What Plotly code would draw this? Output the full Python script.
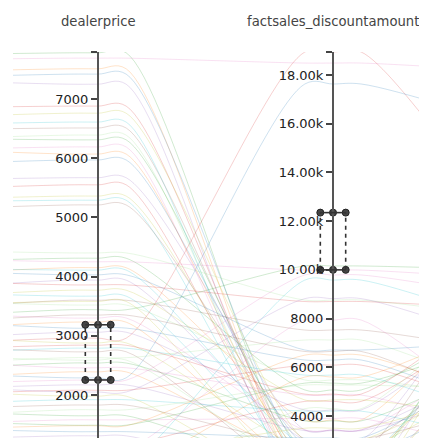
import plotly.graph_objects as go

# ---------------- data ----------------
dealerprice = [
    7780, 7690, 7510, 7420, 7250, 6880, 6760, 6610, 6510, 6390, 6310, 6190, 6070, 5970,
    5670, 5550, 5360, 5290, 5210,
    4400, 4310, 4250, 4150, 4030, 3940, 3860, 3770, 3670, 3600, 3520, 3440, 3300, 3230,
    3130, 3060, 2960, 2880, 2790, 2730, 2630, 2540, 2460, 2390, 2290, 2170, 2080, 1980,
    1920, 1830, 1750, 1650, 1580, 1480, 1380, 1310, 1160, 990, 820, 650, 480, 310,
    1070, 730, 1240, 2050, 2840, 3580, 4110, 3350, 2590, 1490, 2250,
]
discountamount = [
    1780, 18490, 1370, 2400, 960, 1820, 3020, 760, 2190, 1580, 2600, 1170, 1990, 2810,
    3430, 1750, 2380, 1400, 3050,
    8760, 5070, 9990, 3840, 6710, 3020, 8700, 4660, 2190, 7530, 5480, 10160, 3430, 1780,
    6300, 4250, 18944, 2600, 5680, 1370, 7120, 3800, 4860, 2250, 17630, 3400, 6090, 960,
    4200, 2810, 5270, 1700, 3900, 6500, 3100, 1300, 4600, 3500, 9580, 2450, 4300, 1850,
    7940, 5600, 2100, 8820, 4900, 1150, 2750, 6650, 1820, 5350, 9790,
]
# values on the neighbouring axes that lie outside the cropped view (0-100 scale)
prev_axis = [
    99.3, 98.2, 95.5, 94.2, 93.8, 87.5, 85.3, 83.7, 82.6, 80.4, 80.8, 78.1, 78.5, 74.8,
    71.4, 69.2, 67.0, 66.5, 64.7,
    55.8, 53.1, 54.0, 50.2, 51.3, 46.9, 49.1, 45.1, 46.4, 42.4, 44.6, 40.6, 42.0, 37.9,
    40.2, 35.7, 34.6, 36.8, 32.4, 34.6, 30.1, 29.0, 31.3, 26.8, 28.6, 24.6, 23.4, 24.6,
    21.2, 20.1, 18.3, 20.1, 16.7, 15.6, 16.1, 13.4, 11.2, 10.7, 6.7, 7.0, 2.7, 2.2,
    10.0, 7.8, 12.3, 25.7, 33.5, 43.5, 51.8, 39.1, 32.4, 17.9, 25.7,
]
next_axis = [
    22.3, 95.5, 15.6, 26.8, 11.2, 17.9, 31.3, 6.7, 20.1, 24.6, 13.4, 8.9, 21.5, 16.0,
    33.5, 7.2, 18.5, 12.3, 23.4,
    40.2, 44.6, 49.1, 53.6, 35.7, 62.0, 42.4, 17.9, 49.1, 32.4, 22.3, 51.3, 37.9, 26.8,
    17.9, 46.9, 55.8, 31.3, 15.6, 42.4, 22.3, 33.5, 13.4, 44.6, 82.6, 26.8, 17.9, 60.0,
    11.2, 40.2, 24.6, 58.7, 8.9, 20.1, 33.5, 61.4, 44.6, 26.8, 37.9, 63.9, 51.3, 57.3,
    13.4, 42.4, 22.3, 33.5, 49.1, 44.6, 8.9, 17.9, 53.6, 37.9, 44.6,
]

dimension_labels = ["dealerprice", "factsales_discountamount"]
dealer_domain = [226, 7794]
discount_domain = [552, 18944]
hidden_domain = [0, 100]

dealer_tickvals = [2000, 3000, 4000, 5000, 6000, 7000]
dealer_ticktext = ["2000", "3000", "4000", "5000", "6000", "7000"]
discount_tickvals = [4000, 6000, 8000, 10000, 12000, 14000, 16000, 18000]
discount_ticktext = ["4000", "6000", "8000", "10.00k", "12.00k", "14.00k", "16.00k", "18.00k"]

dealer_brush = [2254, 3186]
discount_brush = [10000, 12350]

# ---------------- styling / layout constants ----------------
palette = ["#2ca02c", "#e377c2", "#ff7f0e", "#1f77b4", "#9467bd", "#d62728",
           "#bcbd22", "#17becf", "#8c564b", "#98df8a"]
LINE_ALPHA = 0.22
VIS_BOTTOM = 0.1384          # part of the axes hidden below the cropped view
X_RANGE = [0.6383, 2.4]      # visible window over the axis sequence 0..3
H = 0.12                     # flat-tangent helper offset around each axis
BRUSH_W = 0.054

def norm(v, dom):
    return (v - dom[0]) / (dom[1] - dom[0])

def rgba(hexcol, a):
    h = hexcol.lstrip("#")
    return "rgba(%d,%d,%d,%.2f)" % (int(h[0:2], 16), int(h[2:4], 16), int(h[4:6], 16), a)

fig = go.Figure()

for i in range(len(dealerprice)):
    p = norm(prev_axis[i], hidden_domain)
    d = norm(dealerprice[i], dealer_domain)
    s = norm(discountamount[i], discount_domain)
    n = norm(next_axis[i], hidden_domain)
    xs = [0, H, 1 - H, 1, 1 + H, 2 - H, 2, 2 + H, 3 - H, 3]
    ys = [p, p, d, d, d, s, s, s, n, n]
    fig.add_trace(go.Scatter(
        x=xs, y=ys, mode="lines",
        line=dict(color=rgba(palette[i % len(palette)], LINE_ALPHA), width=1,
                  shape="spline", smoothing=1),
        hoverinfo="skip", showlegend=False))

def vis_range(dom):
    return [dom[0] + VIS_BOTTOM * (dom[1] - dom[0]), dom[1]]

def xpos(xv):
    return (xv - X_RANGE[0]) / (X_RANGE[1] - X_RANGE[0])

tickfont = dict(family="DejaVu Sans", size=13, color="#222")
axis_common = dict(overlaying="y", anchor="free", side="left", showline=True,
                   linecolor="#555", linewidth=2, ticks="outside", ticklen=6,
                   tickcolor="#444", tickwidth=1.5, showgrid=False, zeroline=False,
                   tickfont=tickfont, fixedrange=True)

# the page adds an 8px body margin, so the figure is 8px smaller than the window
fig.update_layout(
    width=419, height=430,
    margin=dict(l=5, r=0, t=44, b=0),
    paper_bgcolor="white", plot_bgcolor="white",
    showlegend=False,
    xaxis=dict(range=X_RANGE, visible=False, fixedrange=True),
    yaxis=dict(range=[VIS_BOTTOM, 1], visible=False, fixedrange=True),
    yaxis2=dict(position=xpos(1), range=vis_range(dealer_domain),
                tickvals=dealer_tickvals + [dealer_domain[1]],
                ticktext=dealer_ticktext + [""], **axis_common),
    yaxis3=dict(position=xpos(2), range=vis_range(discount_domain),
                tickvals=discount_tickvals + [discount_domain[1]],
                ticktext=discount_ticktext + [""], **axis_common),
)

# axis titles
for k, lab in enumerate(dimension_labels):
    fig.add_annotation(x=1 + k, y=1.078, xref="x", yref="paper", text=lab,
                       showarrow=False, xanchor="center", yanchor="middle",
                       font=dict(family="DejaVu Sans", size=13.2, color="#444"))

# brushes
for xc, yref, br in [(1, "y2", dealer_brush), (2, "y3", discount_brush)]:
    x0, x1 = xc - BRUSH_W, xc + BRUSH_W
    for xx in (x0, x1):
        fig.add_shape(type="line", xref="x", yref=yref, x0=xx, x1=xx, y0=br[0], y1=br[1],
                      line=dict(color="#333", width=1.6, dash="4px,4px"))
    for yy in br:
        fig.add_shape(type="line", xref="x", yref=yref, x0=x0, x1=x1, y0=yy, y1=yy,
                      line=dict(color="#333", width=1.6))
    fig.add_trace(go.Scatter(
        x=[x0, xc, x1, x0, xc, x1], y=[br[1]] * 3 + [br[0]] * 3,
        yaxis=yref, mode="markers", cliponaxis=False,
        marker=dict(size=7, color="#444", line=dict(color="#222", width=1)),
        hoverinfo="skip", showlegend=False))

fig.write_html("out.html")
